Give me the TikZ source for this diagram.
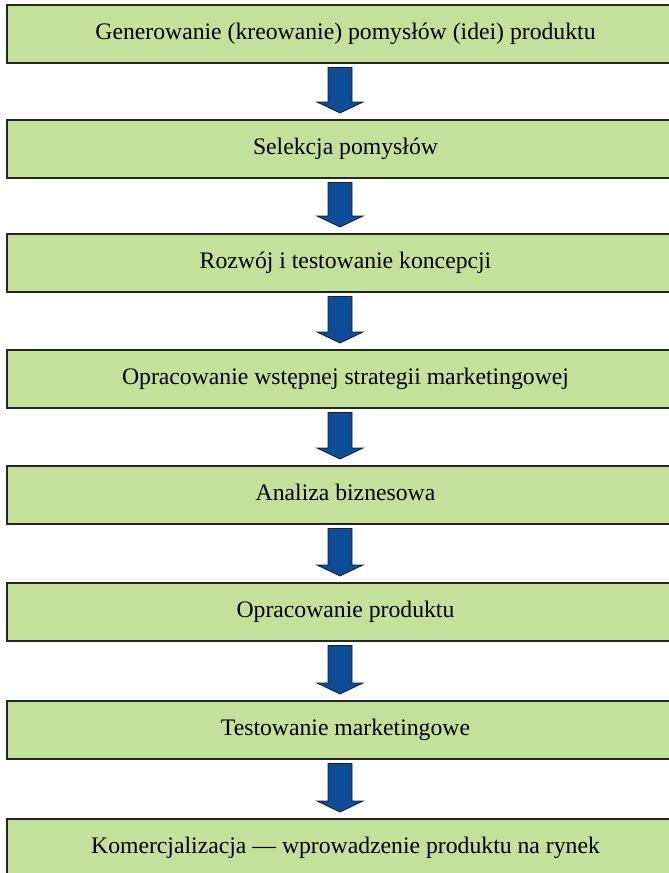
\documentclass[tikz,border=0pt]{standalone}
\usepackage{fontspec}
\setmainfont{Liberation Serif}
\usepackage{xcolor}
\usepackage{tikz}
\usetikzlibrary{calc}
\definecolor{stagegreen}{RGB}{195,225,155}
\definecolor{flowblue}{RGB}{14,76,150}
\definecolor{flowedge}{RGB}{20,30,60}
\newcommand{\stagearrow}[2]{%
  \draw[flow] ($(#1.south)+(-17.5,-4.5)$) -- ($(#1.south)+(6.5,-4.5)$)
    -- ($(#2.north)+(6.5,18)$) -- ($(#2.north)+(17.5,18)$)
    -- ($(#2.north)+(-5.5,7)$) -- ($(#2.north)+(-28.5,18)$)
    -- ($(#2.north)+(-17.5,18)$) -- cycle;}

\begin{document}
\begin{tikzpicture}[x=1pt,y=1pt,
  stage/.style={draw=black!85,line width=1.5pt,fill=stagegreen,minimum width=677pt,minimum height=58pt,
    inner sep=0pt,outer sep=0pt,font=\fontsize{23.7}{28}\selectfont,text height=1.05em,text depth=0em},
  flow/.style={fill=flowblue,draw=flowedge,line width=0.8pt,line join=miter}]
\clip (0,0) rectangle (669,-873);
% process stages
\node[stage] (gen) at (345.5,-34) {Generowanie (kreowanie) pomysłów (idei) produktu};
\node[stage] (sel) at (345.5,-149) {Selekcja pomysłów};
\node[stage] (con) at (345.5,-263) {Rozwój i testowanie koncepcji};
\node[stage] (str) at (345.5,-379) {Opracowanie wstępnej strategii marketingowej};
\node[stage] (ana) at (345.5,-495) {Analiza biznesowa};
\node[stage] (prd) at (345.5,-612) {Opracowanie produktu};
\node[stage] (tst) at (345.5,-730) {Testowanie marketingowe};
\node[stage] (com) at (345.5,-848) {Komercjalizacja — wprowadzenie produktu na rynek};
% block arrows between stages
\stagearrow{gen}{sel}
\stagearrow{sel}{con}
\stagearrow{con}{str}
\stagearrow{str}{ana}
\stagearrow{ana}{prd}
\stagearrow{prd}{tst}
\stagearrow{tst}{com}
\end{tikzpicture}
\end{document}
